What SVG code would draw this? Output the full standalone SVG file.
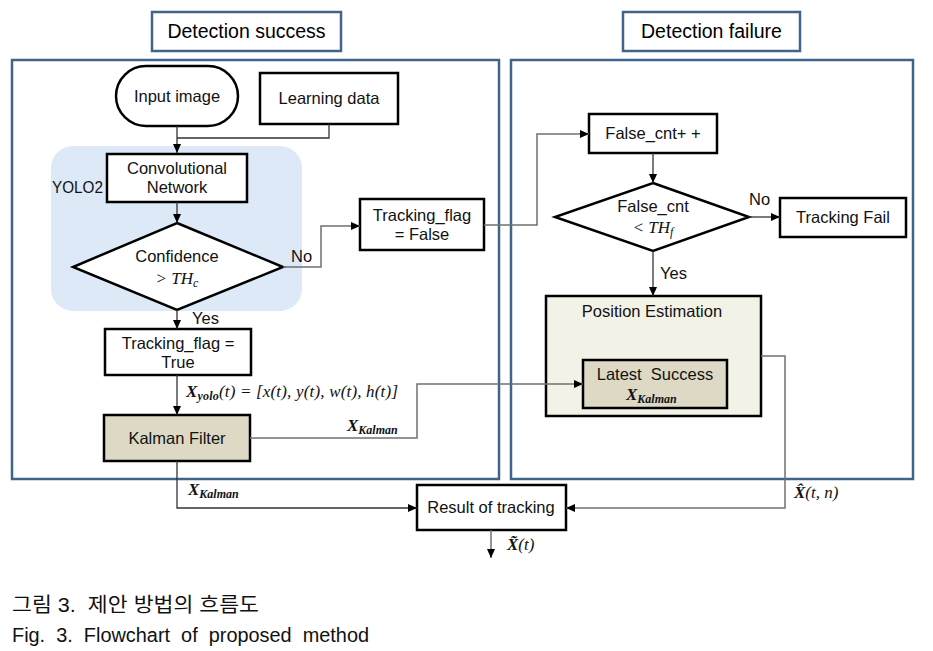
<svg xmlns="http://www.w3.org/2000/svg" width="933" height="651" viewBox="0 0 933 651">
<defs>
<marker id="arr" markerUnits="userSpaceOnUse" markerWidth="10" markerHeight="8" refX="9" refY="4" orient="auto">
<path d="M0,0 L9,4 L0,8 Z" fill="#000"/>
</marker>
<style>
.t{font-family:"Liberation Sans","Noto Sans",Arial,sans-serif;font-size:16.5px;fill:#111;text-anchor:middle}
.tl{font-family:"Liberation Sans","Noto Sans",Arial,sans-serif;font-size:16.5px;fill:#111}
.title{font-family:"Liberation Sans","Noto Sans",Arial,sans-serif;font-size:19.5px;fill:#000;text-anchor:middle}
.m{font-family:"Liberation Serif","DejaVu Serif",serif;font-style:italic;font-size:17px;fill:#111}
.mb{font-family:"Liberation Serif","DejaVu Serif",serif;font-style:italic;font-weight:bold;fill:#111}
.box{fill:#fff;stroke:#000;stroke-width:2.5}
.beige{fill:#ddd9c4;stroke:#000;stroke-width:2.5}
.panel{fill:none;stroke:#41648b;stroke-width:2.5}
.tbox{fill:#fff;stroke:#41648b;stroke-width:2.5}
.c{fill:none;stroke:#333;stroke-width:1.3}
.ca{fill:none;stroke:#333;stroke-width:1.3;marker-end:url(#arr)}
.cg{fill:none;stroke:#707070;stroke-width:1.5;marker-end:url(#arr)}
.cap{font-family:"Liberation Sans","Noto Sans CJK KR",Arial,sans-serif;font-size:20px;fill:#111}
</style>
</defs>
<rect width="933" height="651" fill="#fff"/>

<!-- panels -->
<g id="panel-success">
<rect class="tbox" x="152" y="12" width="189" height="39"/>
<text class="title" x="246.5" y="38">Detection success</text>
<rect class="panel" x="12" y="60" width="487" height="419"/>
</g>
<g id="panel-failure">
<rect class="tbox" x="623" y="12" width="177" height="39"/>
<text class="title" x="711.5" y="38">Detection failure</text>
<rect class="panel" x="511" y="60" width="402" height="419"/>
</g>

<g id="yolo2">
<rect x="51" y="146" width="251" height="165" rx="22" fill="#dde9f6"/>
<text class="tl" x="52" y="193" textLength="51" lengthAdjust="spacingAndGlyphs">YOLO2</text>
</g>

<!-- nodes -->
<g id="input-image">
<rect class="box" x="116" y="66" width="122" height="60" rx="30"/>
<text class="t" x="177" y="102">Input image</text>
</g>
<g id="learning-data">
<rect class="box" x="260" y="73" width="138" height="51"/>
<text class="t" x="329" y="104">Learning data</text>
</g>
<g id="conv-network">
<rect class="box" x="107" y="154" width="140" height="48"/>
<text class="t" x="177" y="174">Convolutional</text>
<text class="t" x="177" y="193">Network</text>
</g>
<g id="confidence">
<polygon class="box" points="177,223 283,267 177,310 73,267"/>
<text class="t" x="177" y="262">Confidence</text>
<text class="m" x="177" y="284" text-anchor="middle">&gt; TH<tspan font-size="12" dy="3">c</tspan></text>
</g>
<g id="tracking-false">
<rect class="box" x="360" y="199" width="124" height="51"/>
<text class="t" x="422" y="221">Tracking_flag</text>
<text class="t" x="422" y="240">= False</text>
</g>
<g id="tracking-true">
<rect class="box" x="105" y="329" width="146" height="46"/>
<text class="t" x="178" y="349">Tracking_flag =</text>
<text class="t" x="178" y="368">True</text>
</g>
<g id="kalman-filter">
<rect class="beige" x="104" y="415" width="146" height="46"/>
<text class="t" x="177" y="444">Kalman Filter</text>
</g>
<g id="false-cnt">
<rect class="box" x="589" y="114" width="128" height="39"/>
<text class="t" x="653" y="139" xml:space="preserve">False_cnt+ +</text>
</g>
<g id="false-cnt-check">
<polygon class="box" points="653,183 749,217 653,251 555,217"/>
<text class="t" x="653" y="212">False_cnt</text>
<text class="m" x="653" y="233" text-anchor="middle">&lt; TH<tspan font-size="12" dy="3">f</tspan></text>
</g>
<g id="tracking-fail">
<rect class="box" x="780" y="198" width="126" height="39"/>
<text class="t" x="843" y="223">Tracking Fail</text>
</g>
<g id="position-estimation">
<rect x="546" y="296" width="215" height="120" fill="#f3f2e6" stroke="#000" stroke-width="2.5"/>
<text class="t" x="652" y="317">Position Estimation</text>
</g>
<g id="latest-success">
<rect class="beige" x="583" y="360" width="144" height="48"/>
<text class="t" x="655" y="380" xml:space="preserve">Latest  Success</text>
<text class="m" x="626" y="400"><tspan class="mb" font-size="17">X</tspan><tspan class="mb" font-size="12" dy="3">Kalman</tspan></text>
</g>
<g id="result">
<rect class="box" x="417" y="485" width="149" height="45"/>
<text class="t" x="491" y="513">Result of tracking</text>
</g>

<!-- connectors -->
<g id="connectors">
<path class="ca" d="M177,126 V153"/>
<path class="c" d="M329,124 V138 H177"/>
<path class="ca" d="M177,202 V223"/>
<path class="cg" d="M283,267 H321 V226 H360"/>
<path class="cg" d="M484,225 H537 V134 H589"/>
<path class="ca" d="M653,153 V183"/>
<path class="ca" d="M749,217 H780"/>
<path class="ca" d="M653,251 V296"/>
<path class="ca" d="M177,310 V329"/>
<path class="ca" d="M177,375 V415"/>
<path class="cg" d="M250,438 H417 V384 H583"/>
<path class="ca" d="M177,461 V508 H417"/>
<path class="cg" d="M761,356 H785 V508 H566"/>
<path class="cg" d="M491,530 V558"/>
<text class="tl" x="291" y="262">No</text>
<text class="tl" x="192" y="324">Yes</text>
<text class="tl" x="749" y="205">No</text>
<text class="tl" x="660" y="279">Yes</text>
<text class="m" x="186" y="397" textLength="212" lengthAdjust="spacing"><tspan class="mb" font-size="17">X</tspan><tspan class="mb" font-size="12" dy="3">yolo</tspan><tspan dy="-3">(t) = [x(t), y(t), w(t), h(t)]</tspan></text>
<text class="m" x="347" y="431"><tspan class="mb" font-size="17">X</tspan><tspan class="mb" font-size="12" dy="3">Kalman</tspan></text>
<text class="m" x="188" y="495"><tspan class="mb" font-size="17">X</tspan><tspan class="mb" font-size="12" dy="3">Kalman</tspan></text>
<text class="m" x="794" y="498"><tspan class="mb" font-size="17">X̂</tspan>(t, n)</text>
<text class="m" x="507" y="550"><tspan class="mb" font-size="17">X̃</tspan>(t)</text>
</g>

<!-- caption -->
<text class="cap" x="12" y="612" textLength="247" lengthAdjust="spacingAndGlyphs" xml:space="preserve">그림 3.  제안 방법의 흐름도</text>
<text class="cap" x="12" y="642" textLength="357" lengthAdjust="spacingAndGlyphs" xml:space="preserve">Fig.  3.  Flowchart  of  proposed  method</text>
</svg>
